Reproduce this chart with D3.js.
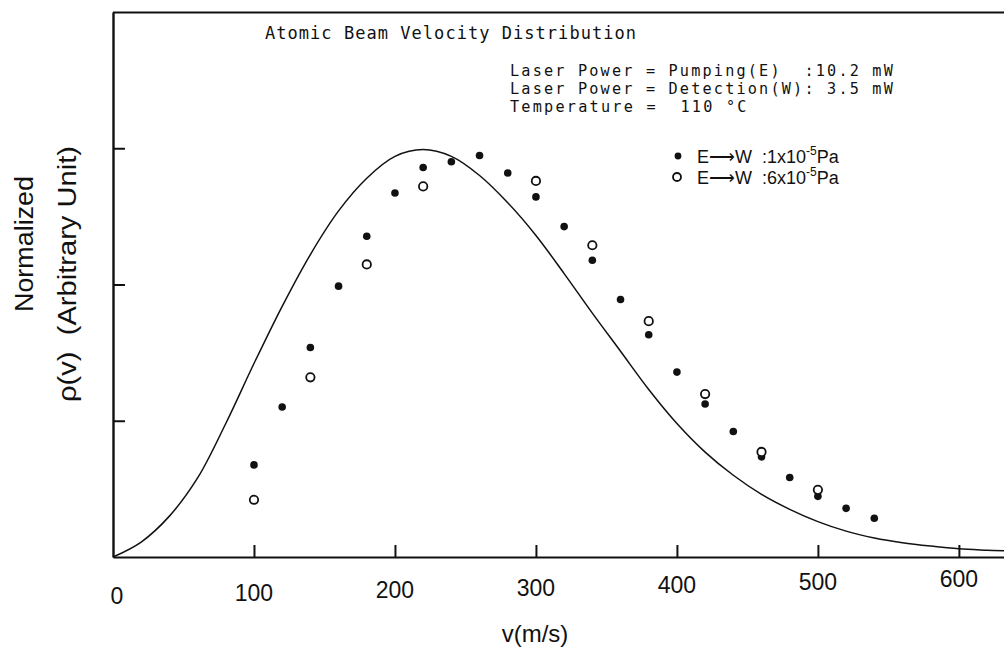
<!DOCTYPE html>
<html>
<head>
<meta charset="utf-8">
<script src="https://cdn.jsdelivr.net/npm/d3@7"></script>
<style>
  html, body { margin: 0; padding: 0; background: #fff; }
  svg { display: block; }
  text { white-space: pre; }
</style>
</head>
<body>
<svg id="chart" width="1004" height="647"></svg>
<script>
// ---- data ----
const filledV = [100, 120, 140, 160, 180, 200, 220, 240, 260, 280, 300, 320, 340, 360, 380, 400, 420, 440, 460, 480, 500, 520, 540];
const filledY = [0.676, 1.101, 1.538, 1.988, 2.354, 2.672, 2.859, 2.901, 2.947, 2.818, 2.643, 2.425, 2.178, 1.890, 1.631, 1.357, 1.123, 0.921, 0.735, 0.584, 0.445, 0.357, 0.284];
const openV = [100, 140, 180, 220, 300, 340, 380, 420, 460, 500];
const openY = [0.420, 1.319, 2.147, 2.720, 2.760, 2.288, 1.731, 1.196, 0.771, 0.493];
const curveV = [0, 20, 40, 60, 80, 100, 120, 140, 160, 180, 200, 220, 240, 260, 280, 300, 320, 340, 360, 380, 400, 420, 440, 460, 480, 500, 520, 540, 560, 580, 600, 620, 632];
const curveY = [0, 0.11, 0.30, 0.58, 0.98, 1.42, 1.84, 2.22, 2.54, 2.78, 2.94, 2.99, 2.94, 2.80, 2.60, 2.36, 2.08, 1.79, 1.51, 1.23, 0.98, 0.77, 0.60, 0.46, 0.35, 0.26, 0.19, 0.14, 0.105, 0.08, 0.06, 0.05, 0.045];
const xTickValues = [100, 200, 300, 400, 500, 600];
const xTickLabels = ["0", "100", "200", "300", "400", "500", "600"];
const xLabelValues = [0, 100, 200, 300, 400, 500, 600];
const yTickValues = [1, 2, 3];
const titleText = "Atomic Beam Velocity Distribution";
const infoLines = ["Laser Power = Pumping(E)  :10.2 mW", "Laser Power = Detection(W): 3.5 mW", "Temperature =  110 \u00B0C"];
const legendLabels = ["1x10", "6x10"];

// ---- layout ----
const svg = d3.select("#chart");
const x = d3.scaleLinear().domain([0, 632]).range([113, 1004]);
const y = d3.scaleLinear().domain([0, 4]).range([557, 12]);

const ink = "#111";

// frame: top line
svg.append("line").attr("x1", 113).attr("x2", 1004).attr("y1", 12.5).attr("y2", 12.5)
  .attr("stroke", ink).attr("stroke-width", 2);

// x axis (ticks pointing inward / up)
const xAxis = d3.axisBottom(x).tickValues(xTickValues).tickSizeInner(-12).tickSizeOuter(0).tickFormat("");
const gx = svg.append("g").attr("transform", `translate(0,${y(0)})`).call(xAxis);
gx.select(".domain").attr("stroke", ink).attr("stroke-width", 2.2);
gx.selectAll(".tick line").attr("stroke", ink).attr("stroke-width", 2);

// y axis (ticks pointing inward / right)
const yAxis = d3.axisLeft(y).tickValues(yTickValues).tickSizeInner(-12).tickSizeOuter(0).tickFormat("");
const gy = svg.append("g").attr("transform", `translate(${x(0)},0)`).call(yAxis);
gy.select(".domain").attr("stroke", ink).attr("stroke-width", 2.4);
gy.selectAll(".tick line").attr("stroke", ink).attr("stroke-width", 2);

// x tick labels
svg.append("g").selectAll("text").data(xLabelValues).join("text")
  .attr("x", (d, i) => x(d) + (i === 0 ? 4 : 0))
  .attr("y", (d, i) => 604 - i * 2.8)
  .attr("text-anchor", "middle")
  .attr("font-family", "Liberation Sans, Arial, sans-serif")
  .attr("font-size", 23)
  .attr("fill", ink)
  .text((d, i) => xTickLabels[i]);

// x axis title
svg.append("text").attr("x", 535).attr("y", 642).attr("text-anchor", "middle")
  .attr("font-family", "Liberation Sans, Arial, sans-serif").attr("font-size", 24)
  .attr("fill", ink).text("v(m/s)");

// y axis titles
svg.append("text").attr("transform", "translate(33,244) rotate(-90)")
  .attr("text-anchor", "middle")
  .attr("font-family", "Liberation Sans, Arial, sans-serif").attr("font-size", 25)
  .attr("textLength", 136).attr("lengthAdjust", "spacingAndGlyphs")
  .attr("fill", ink).text("Normalized");
svg.append("text").attr("transform", "translate(76,274) rotate(-90)")
  .attr("text-anchor", "middle")
  .attr("font-family", "Liberation Sans, Arial, sans-serif").attr("font-size", 25)
  .attr("textLength", 256).attr("lengthAdjust", "spacingAndGlyphs")
  .attr("fill", ink).text("\u03C1(v)  (Arbitrary Unit)");

// curve
const line = d3.line().x((d, i) => x(curveV[i])).y((d, i) => y(curveY[i])).curve(d3.curveCatmullRom.alpha(0.5));
svg.append("path").datum(curveV).attr("d", line)
  .attr("fill", "none").attr("stroke", ink).attr("stroke-width", 1.5);

// points
svg.append("g").selectAll("circle").data(filledV).join("circle")
  .attr("cx", d => x(d)).attr("cy", (d, i) => y(filledY[i])).attr("r", 3.8)
  .attr("fill", ink);
svg.append("g").selectAll("circle").data(openV).join("circle")
  .attr("cx", d => x(d)).attr("cy", (d, i) => y(openY[i])).attr("r", 4.2)
  .attr("fill", "#fff").attr("stroke", ink).attr("stroke-width", 1.8);

// title and info (plotter-like monospace)
const mono = "DejaVu Sans Mono, Liberation Mono, monospace";
svg.append("text").attr("x", 265).attr("y", 39).attr("font-family", mono).attr("font-size", 17)
  .attr("textLength", 371).attr("lengthAdjust", "spacing").attr("fill", ink).text(titleText);
svg.append("g").selectAll("text").data(infoLines).join("text")
  .attr("x", 510).attr("y", (d, i) => 76 + i * 18)
  .attr("font-family", mono).attr("font-size", 15.2)
  .attr("textLength", d => d.length * 11.26).attr("lengthAdjust", "spacing")
  .attr("fill", ink).text(d => d);

// legend
const legendY = [156, 177];
legendLabels.forEach((lab, i) => {
  if (i === 0) {
    svg.append("circle").attr("cx", 678).attr("cy", legendY[i]).attr("r", 3.4).attr("fill", ink);
  } else {
    svg.append("circle").attr("cx", 677).attr("cy", legendY[i]).attr("r", 4).attr("fill", "#fff")
      .attr("stroke", ink).attr("stroke-width", 1.8);
  }
  const t = svg.append("text").attr("x", 697).attr("y", legendY[i] + 7)
    .attr("font-family", "Liberation Sans, Arial, sans-serif").attr("font-size", 18).attr("fill", ink);
  t.append("tspan").text("E\u27F6W  :" + lab);
  t.append("tspan").attr("dy", -8).attr("font-size", 12).text("-5");
  t.append("tspan").attr("dy", 8).text("Pa");
});
</script>
</body>
</html>
